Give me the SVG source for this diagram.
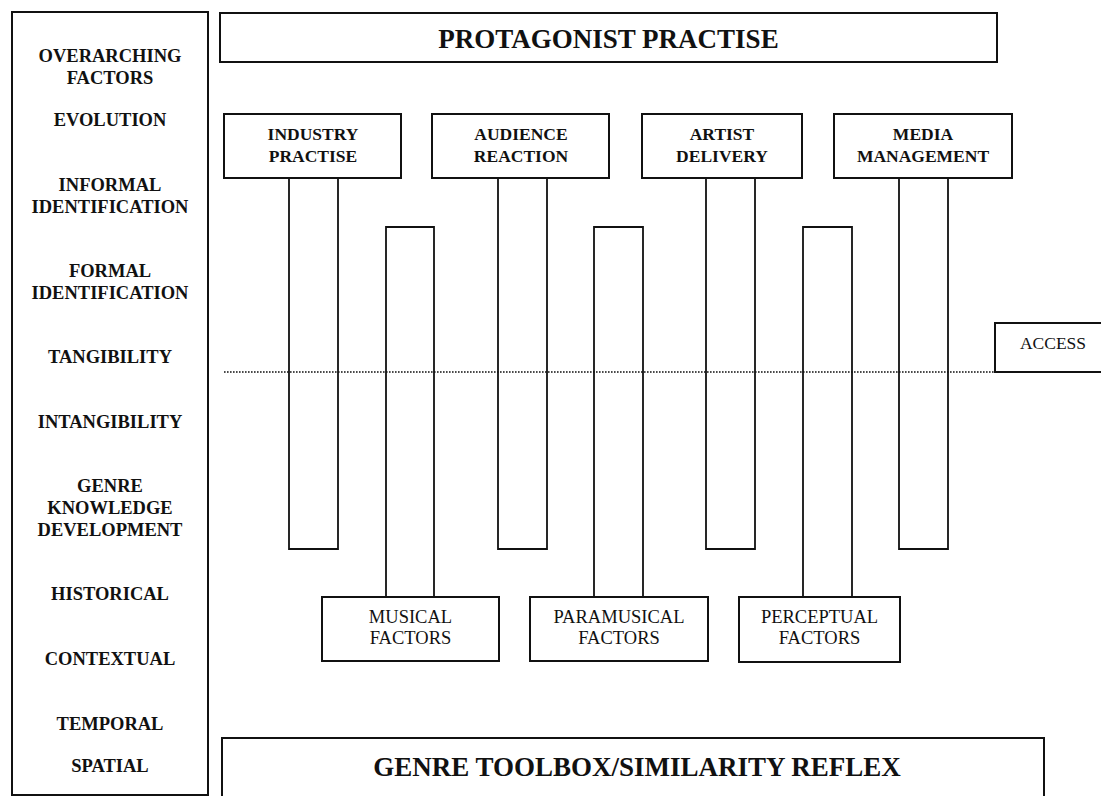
<svg xmlns="http://www.w3.org/2000/svg" width="1101" height="796" viewBox="0 0 1101 796">
  <style>
    .box { fill: #fff; stroke: #111; stroke-width: 2; }
    .bar { fill: none; stroke: #111; stroke-width: 1.8; }
    .dots { fill: none; stroke: #111; stroke-width: 1.6; stroke-dasharray: 1.6 1.4; }
    text { font-family: "Liberation Serif", "Times New Roman", serif; fill: #111; text-anchor: middle; }
    .side { font-size: 18.5px; font-weight: bold; }
    .head { font-size: 17.5px; font-weight: bold; }
    .title { font-size: 27px; font-weight: bold; }
    .plain { font-size: 18.5px; }
    .acc { font-size: 17.5px; }
  </style>
  <rect width="1101" height="796" fill="#fff"/>

  <!-- left column of overarching factors -->
  <g id="overarching-factors">
    <rect class="box" x="12" y="12" width="196" height="783"/>
    <text class="side" x="110" y="62">OVERARCHING</text>
    <text class="side" x="110" y="84">FACTORS</text>
    <text class="side" x="110" y="126">EVOLUTION</text>
    <text class="side" x="110" y="191">INFORMAL</text>
    <text class="side" x="110" y="213">IDENTIFICATION</text>
    <text class="side" x="110" y="277">FORMAL</text>
    <text class="side" x="110" y="299">IDENTIFICATION</text>
    <text class="side" x="110" y="363">TANGIBILITY</text>
    <text class="side" x="110" y="428">INTANGIBILITY</text>
    <text class="side" x="110" y="492">GENRE</text>
    <text class="side" x="110" y="514">KNOWLEDGE</text>
    <text class="side" x="110" y="536">DEVELOPMENT</text>
    <text class="side" x="110" y="600">HISTORICAL</text>
    <text class="side" x="110" y="665">CONTEXTUAL</text>
    <text class="side" x="110" y="730">TEMPORAL</text>
    <text class="side" x="110" y="772">SPATIAL</text>
  </g>

  <g id="protagonist-practise">
    <rect class="box" x="220" y="13" width="777" height="49"/>
    <text class="title" x="608.5" y="48">PROTAGONIST PRACTISE</text>
  </g>

  <!-- connectors: open-ended columns between the rows -->
  <g id="connectors">
    <path class="bar" d="M289,178 V549 H338 V178"/>
    <path class="bar" d="M498,178 V549 H547 V178"/>
    <path class="bar" d="M706,178 V549 H755 V178"/>
    <path class="bar" d="M899,178 V549 H948 V178"/>
    <path class="bar" d="M386,597 V227 H434 V597"/>
    <path class="bar" d="M594,597 V227 H643 V597"/>
    <path class="bar" d="M803,597 V227 H852 V597"/>
    <line class="dots" x1="224" y1="372" x2="995" y2="372"/>
  </g>

  <g id="industry-practise">
    <rect class="box" x="224" y="114" width="177" height="64"/>
    <text class="head" x="313" y="140">INDUSTRY</text>
    <text class="head" x="313" y="162">PRACTISE</text>
  </g>
  <g id="audience-reaction">
    <rect class="box" x="432" y="114" width="177" height="64"/>
    <text class="head" x="521" y="140">AUDIENCE</text>
    <text class="head" x="521" y="162">REACTION</text>
  </g>
  <g id="artist-delivery">
    <rect class="box" x="642" y="114" width="160" height="64"/>
    <text class="head" x="722" y="140">ARTIST</text>
    <text class="head" x="722" y="162">DELIVERY</text>
  </g>
  <g id="media-management">
    <rect class="box" x="834" y="114" width="178" height="64"/>
    <text class="head" x="923" y="140">MEDIA</text>
    <text class="head" x="923" y="162">MANAGEMENT</text>
  </g>

  <g id="access">
    <rect class="box" x="995" y="323" width="120" height="49"/>
    <text class="acc" x="1053" y="349">ACCESS</text>
  </g>

  <g id="musical-factors">
    <rect class="box" x="322" y="597" width="177" height="64"/>
    <text class="plain" x="410.5" y="623">MUSICAL</text>
    <text class="plain" x="410.5" y="644">FACTORS</text>
  </g>
  <g id="paramusical-factors">
    <rect class="box" x="530" y="597" width="178" height="64"/>
    <text class="plain" x="619" y="623">PARAMUSICAL</text>
    <text class="plain" x="619" y="644">FACTORS</text>
  </g>
  <g id="perceptual-factors">
    <rect class="box" x="739" y="597" width="161" height="65"/>
    <text class="plain" x="819.5" y="623">PERCEPTUAL</text>
    <text class="plain" x="819.5" y="644">FACTORS</text>
  </g>

  <g id="genre-toolbox">
    <rect class="box" x="222" y="738" width="822" height="80"/>
    <text class="title" x="637" y="776">GENRE TOOLBOX/SIMILARITY REFLEX</text>
  </g>
</svg>
